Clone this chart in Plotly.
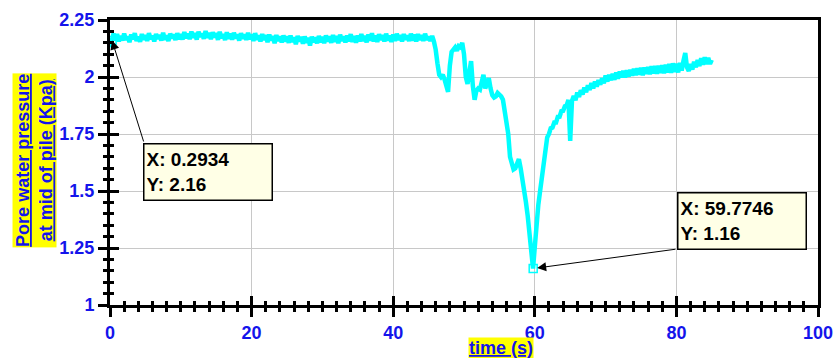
import numpy as np
import plotly.graph_objects as go

# ---------------- data ----------------
time_step = 0.25  # s, sampling of the values below (0 ... 85 s)
pressure = [
    # 0 - 4.75 s
    2.13, 2.16, 2.19, 2.16, 2.188, 2.156, 2.18, 2.16, 2.19, 2.163,
    2.178, 2.153, 2.186, 2.166, 2.192, 2.158, 2.176, 2.155, 2.188, 2.164,
    # 5 - 9.75 s
    2.184, 2.158, 2.192, 2.166, 2.18, 2.156, 2.189, 2.168, 2.184, 2.16,
    2.194, 2.164, 2.182, 2.158, 2.19, 2.17, 2.186, 2.162, 2.192, 2.166,
    # 10 - 14.75 s
    2.188, 2.164, 2.197, 2.17, 2.19, 2.166, 2.199, 2.173, 2.192, 2.164,
    2.198, 2.176, 2.19, 2.168, 2.202, 2.172, 2.194, 2.166, 2.196, 2.174,
    # 15 - 19.75 s
    2.192, 2.163, 2.198, 2.17, 2.188, 2.162, 2.196, 2.168, 2.19, 2.164,
    2.194, 2.17, 2.187, 2.16, 2.192, 2.168, 2.186, 2.163, 2.194, 2.166,
    # 20 - 24.75 s
    2.187, 2.158, 2.192, 2.164, 2.182, 2.156, 2.188, 2.162, 2.184, 2.153,
    2.186, 2.16, 2.18, 2.148, 2.184, 2.158, 2.178, 2.152, 2.182, 2.156,
    # 25 - 29.75 s
    2.178, 2.15, 2.182, 2.154, 2.174, 2.144, 2.18, 2.156, 2.176, 2.146,
    2.178, 2.15, 2.172, 2.138, 2.177, 2.153, 2.174, 2.148, 2.18, 2.152,
    # 30 - 34.75 s
    2.176, 2.148, 2.182, 2.156, 2.178, 2.15, 2.184, 2.154, 2.18, 2.148,
    2.186, 2.158, 2.178, 2.152, 2.182, 2.156, 2.188, 2.154, 2.18, 2.15,
    # 35 - 39.75 s
    2.182, 2.156, 2.188, 2.158, 2.18, 2.152, 2.186, 2.16, 2.192, 2.156,
    2.182, 2.154, 2.188, 2.162, 2.184, 2.156, 2.19, 2.16, 2.182, 2.154,
    # 40 - 44.75 s
    2.186, 2.158, 2.19, 2.162, 2.184, 2.156, 2.188, 2.164, 2.182, 2.158,
    2.19, 2.16, 2.186, 2.156, 2.188, 2.162, 2.184, 2.158, 2.19, 2.163,
    # 45 - 49.75 s
    2.177, 2.158, 2.18, 2.156, 2.12, 2.06, 2.01, 2.0, 2.01, 1.99,
    1.96, 1.935, 2.05, 2.11, 2.12, 2.13, 2.115, 2.135, 2.13, 2.15,
    # 50 - 54.75 s
    2.1, 2.0, 1.97, 2.02, 2.07, 1.96, 1.9, 1.94, 1.95, 1.945,
    1.975, 2.01, 1.95, 1.975, 1.995, 1.95, 1.92, 1.91, 1.915, 1.93,
    # 55 - 59.75 s
    1.925, 1.915, 1.9, 1.84, 1.79, 1.75, 1.65, 1.61, 1.595, 1.6,
    1.625, 1.64, 1.6, 1.555, 1.51, 1.45, 1.39, 1.31, 1.23, 1.16,
    # 60 - 64.75 s
    1.255, 1.38, 1.44, 1.5, 1.56, 1.615, 1.68, 1.735, 1.75, 1.775,
    1.778, 1.8, 1.8, 1.825, 1.826, 1.85, 1.852, 1.872, 1.875, 1.9,
    # 65 - 69.75 s
    1.72, 1.895, 1.917, 1.898, 1.932, 1.913, 1.942, 1.923, 1.954, 1.933,
    1.964, 1.943, 1.974, 1.95, 1.98, 1.958, 1.987, 1.966, 1.994, 1.973,
    # 70 - 74.75 s
    2.007, 1.98, 2.01, 1.986, 2.014, 1.988, 2.02, 1.993, 2.024, 1.998,
    2.027, 1.998, 2.03, 2.002, 2.032, 2.006, 2.036, 2.008, 2.038, 2.01,
    # 75 - 79.75 s
    2.04, 2.008, 2.042, 2.014, 2.044, 2.012, 2.047, 2.016, 2.048, 2.014,
    2.05, 2.018, 2.052, 2.016, 2.054, 2.02, 2.057, 2.018, 2.06, 2.022,
    # 80 - 85 s
    2.058, 2.02, 2.062, 2.028, 2.072, 2.105, 2.042, 2.026, 2.057, 2.033,
    2.067, 2.043, 2.074, 2.048, 2.082, 2.054, 2.086, 2.056, 2.084, 2.058,
    2.075,
]
time = np.round(np.arange(len(pressure)) * time_step, 2)

# data tips
tip_x = [0.2934, 59.7746]
tip_y = [2.16, 1.16]

# axes
x_range = [0, 100]
y_range = [1, 2.25]
x_tickvals = [0, 20, 40, 60, 80, 100]
x_ticktext = ["0", "20", "40", "60", "80", "100"]
y_tickvals = [1, 1.25, 1.5, 1.75, 2, 2.25]
y_ticktext = ["1", "1.25", "1.5", "1.75", "2", "2.25"]
x_minor_step = 2
y_minor_step = 0.05

x_title = "time (s)"
y_title_lines = ["Pore water pressure", "at mid of pile (Kpa)"]

# ---------------- styles ----------------
BLUE = "#1414EB"
CYAN = "#00FFFF"
FONT = "Liberation Sans, Arial, sans-serif"
tickfont = dict(family=FONT, size=18, color=BLUE, weight="bold")

fig = go.Figure()
fig.add_trace(go.Scatter(
    x=time, y=pressure, mode="lines",
    line=dict(color=CYAN, width=4.5), hoverinfo="skip", showlegend=False))
fig.add_trace(go.Scatter(
    x=tip_x, y=tip_y, mode="markers",
    marker=dict(symbol="square-open", size=8, color=CYAN, line=dict(width=1.5, color=CYAN)),
    hoverinfo="skip", showlegend=False))
# invisible trace so the overlaid "inside tick" axes get drawn
fig.add_trace(go.Scatter(
    x=[time[0]], y=[pressure[0]], xaxis="x2", yaxis="y2", mode="markers",
    marker=dict(opacity=0), hoverinfo="skip", showlegend=False))

common_major = dict(ticklen=9, tickwidth=3, tickcolor="black", zeroline=False,
                    automargin=False)

fig.update_layout(
    width=837, height=358,
    margin=dict(l=110, r=19, t=20, b=53, autoexpand=False),
    paper_bgcolor="white", plot_bgcolor="white",
    showlegend=False,
    xaxis=dict(
        range=x_range, tickmode="array", tickvals=x_tickvals, ticktext=x_ticktext,
        ticks="outside", showline=True, linewidth=3, linecolor="black", mirror=True,
        showgrid=True, gridcolor="#C8C8C8", gridwidth=1, tickfont=tickfont,
        minor=dict(ticks="outside", ticklen=4, tickwidth=2.5, tickcolor="black",
                   dtick=x_minor_step, tick0=0, showgrid=False),
        **common_major),
    yaxis=dict(
        range=y_range, tickmode="array", tickvals=y_tickvals, ticktext=y_ticktext,
        ticks="outside", showline=True, linewidth=3, linecolor="black", mirror=True,
        showgrid=True, gridcolor="#C8C8C8", gridwidth=1, tickfont=tickfont,
        minor=dict(ticks="outside", ticklen=4, tickwidth=2.5, tickcolor="black",
                   dtick=y_minor_step, tick0=1, showgrid=False),
        **common_major),
    xaxis2=dict(
        overlaying="x", anchor="y2", side="bottom", range=x_range,
        tickmode="array", tickvals=x_tickvals, ticks="inside", showticklabels=False,
        showgrid=False, showline=False,
        minor=dict(ticks="inside", ticklen=4, tickwidth=2.5, tickcolor="black",
                   dtick=x_minor_step, tick0=0, showgrid=False),
        **common_major),
    yaxis2=dict(
        overlaying="y", anchor="x2", side="left", range=y_range,
        tickmode="array", tickvals=y_tickvals, ticks="inside", showticklabels=False,
        showgrid=False, showline=False,
        minor=dict(ticks="inside", ticklen=4, tickwidth=2.5, tickcolor="black",
                   dtick=y_minor_step, tick0=1, showgrid=False),
        **common_major),
)

annotations = []
# axis titles (highlighted, underlined)
annotations.append(dict(
    text="<br>".join(f"<b><u>{s}</u></b>" for s in y_title_lines),
    xref="paper", yref="paper", x=-0.106, y=0.509, xanchor="center", yanchor="middle",
    textangle=-90, showarrow=False, bgcolor="#FFFF00", borderpad=0,
    font=dict(family=FONT, size=18, color=BLUE)))
annotations.append(dict(
    text=f"<b><u>{x_title}</u></b>",
    xref="paper", yref="paper", x=0.552, y=-0.151, xanchor="center", yanchor="middle",
    showarrow=False, bgcolor="#FFFF00", borderpad=0,
    font=dict(family=FONT, size=18, color=BLUE)))

# data tip boxes and arrows
box_shift = [(96.4, -131), (208.3, 47.5)]
arrow_tail = [(32, 102.5), (143.8, -19.5)]
arrow_standoff = [0, 4]
for i in range(2):
    annotations.append(dict(
        text=f"<b>X: {tip_x[i]}</b><br><b>Y: {tip_y[i]}</b>",
        xref="x", yref="y", x=tip_x[i], y=tip_y[i],
        xanchor="center", yanchor="middle",
        xshift=box_shift[i][0], yshift=box_shift[i][1],
        showarrow=False, align="left", valign="middle",
        width=123, height=51, bgcolor="#FFFFE6", bordercolor="black",
        borderwidth=1.5, borderpad=2,
        font=dict(family=FONT, size=19, color="black")))
    annotations.append(dict(
        text="", xref="x", yref="y", x=tip_x[i], y=tip_y[i],
        ax=arrow_tail[i][0], ay=arrow_tail[i][1],
        showarrow=True, arrowhead=2, arrowsize=1.8, arrowwidth=1,
        arrowcolor="black", standoff=arrow_standoff[i]))

fig.update_layout(annotations=annotations)

fig.write_html("out.html")
